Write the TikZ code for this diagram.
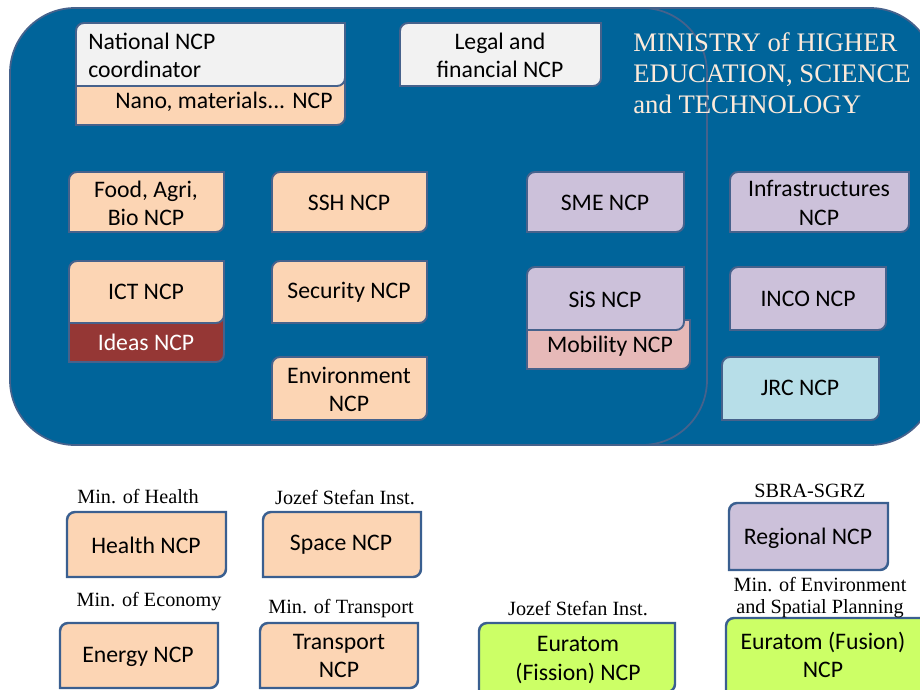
\documentclass[tikz,border=0pt]{standalone}
\usepackage{fontspec}
\setmainfont{Carlito}
\newfontfamily\timesfont{Liberation Serif}
\definecolor{minblue}{HTML}{00649A}
\definecolor{edgeblue}{HTML}{46628C}
\definecolor{darkedge}{HTML}{3A5F90}
\definecolor{peach}{HTML}{FCD5B4}
\definecolor{lilac}{HTML}{CCC1DA}
\definecolor{paper}{HTML}{F2F2F2}
\definecolor{wine}{HTML}{953735}
\definecolor{rose}{HTML}{E6B9B8}
\definecolor{iceblue}{HTML}{B7DEE8}
\definecolor{lime}{HTML}{CCFF66}
\definecolor{cream}{HTML}{FDEADA}

\newcommand{\diagbox}[5][]{%
	\draw[#1] (#2,#5) -- (#2,#3+8) arc[start angle=180, end angle=90, radius=0.16cm] -- (#4,#3) -- (#4,#5-8) arc[start angle=0, end angle=-90, radius=0.16cm] -- cycle;
}

\begin{document}
\begin{tikzpicture}[x=0.02cm, y=-0.02cm,
	inbox/.style={draw=edgeblue, line width=1.1pt},
	outbox/.style={draw=darkedge, line width=1.4pt},
	ncp/.style={font=\fontsize{13.5}{16}\selectfont, align=center, inner sep=0pt},
	org/.style={font=\timesfont\fontsize{11.5}{12.5}\selectfont, align=center, inner sep=0pt},
	title/.style={font=\timesfont\fontsize{15.2}{17.6}\selectfont, text=cream, align=left, inner sep=0pt}]
	\useasboundingbox (0,0) rectangle (920,690);
	\clip (0,0) rectangle (920,690);

	\draw[fill=minblue, draw=edgeblue, line width=1pt, rounded corners=1.3cm] (395,8) rectangle (935,445);
	\draw[fill=minblue, draw=edgeblue, line width=1pt, rounded corners=1.3cm] (10,8) rectangle (707,445);

	\diagbox[inbox, fill=peach]{76}{70}{345}{125}
	\diagbox[inbox, fill=paper]{76}{23}{345}{86}
	\diagbox[inbox, fill=paper]{400}{23}{601}{86}
	\diagbox[inbox, fill=peach]{69}{172}{224}{232}
	\diagbox[inbox, fill=peach]{272}{172}{427}{232}
	\diagbox[inbox, fill=lilac]{527}{172}{684}{232}
	\diagbox[inbox, fill=lilac]{730}{172}{909}{232}
	\diagbox[inbox, fill=wine]{69}{305}{224}{362}
	\diagbox[inbox, fill=peach]{69}{261}{224}{323}
	\diagbox[inbox, fill=peach]{272}{261}{427}{323}
	\diagbox[inbox, fill=rose]{527}{320}{690}{369}
	\diagbox[inbox, fill=lilac]{527}{267}{684}{330}
	\diagbox[inbox, fill=lilac]{730}{267}{886}{330}
	\diagbox[inbox, fill=peach]{272}{357}{427}{420}
	\diagbox[inbox, fill=iceblue]{722}{357}{879}{420}

	\node[ncp, anchor=west, align=left] (natcoord) at (88,55) {National NCP\\coordinator};
	\node[ncp] (nano) at (224,102) {Nano, materials... NCP};
	\node[ncp] (legal) at (500,55) {Legal and\\financial NCP};
	\node[title, anchor=north west] (ministry) at (633,32) {MINISTRY of HIGHER\\EDUCATION, SCIENCE\\and TECHNOLOGY};
	\node[ncp] (food) at (146,203) {Food, Agri,\\Bio NCP};
	\node[ncp] (ssh) at (349,203) {SSH NCP};
	\node[ncp] (sme) at (605,203) {SME NCP};
	\node[ncp] (infra) at (819,203) {Infrastructures\\NCP};
	\node[ncp] (ict) at (146,292) {ICT NCP};
	\node[ncp, text=white] (ideas) at (146,342) {Ideas NCP};
	\node[ncp] (security) at (349,292) {Security NCP};
	\node[ncp] (sis) at (605,299) {SiS NCP};
	\node[ncp] (mobility) at (610,346) {Mobility NCP};
	\node[ncp] (inco) at (808,299) {INCO NCP};
	\node[ncp] (environment) at (349,389) {Environment\\NCP};
	\node[ncp] (jrc) at (800,388) {JRC NCP};

	\diagbox[outbox, fill=peach]{67}{512}{226}{577}
	\diagbox[outbox, fill=peach]{263}{512}{421}{577}
	\diagbox[outbox, fill=peach]{60}{623}{218}{688}
	\diagbox[outbox, fill=peach]{260}{623}{418}{688}
	\diagbox[outbox, fill=lime]{479}{623}{675}{692}
	\diagbox[outbox, fill=lilac]{729}{503}{888}{570}
	\diagbox[outbox, fill=lime]{726}{618}{935}{700}

	\node[org] (minhealth) at (138,497) {Min. of Health};
	\node[org] (jsi) at (345,498) {Jozef Stefan Inst.};
	\node[org] (mineconomy) at (149,602) {Min. of Economy};
	\node[org] (mintransport) at (341,609) {Min. of Transport};
	\node[org] (jsifission) at (578,609) {Jozef Stefan Inst.};
	\node[org] (sbra) at (810,491) {SBRA-SGRZ};
	\node[org] (minenv) at (820,598) {Min. of Environment\\and Spatial Planning};

	\node[ncp] (health) at (146,545) {Health NCP};
	\node[ncp] (space) at (341,545) {Space NCP};
	\node[ncp] (energy) at (138,657) {Energy NCP};
	\node[ncp] (transport) at (339,656) {Transport\\NCP};
	\node[ncp] (fission) at (578,660) {Euratom\\(Fission) NCP};
	\node[ncp] (regional) at (808,538) {Regional NCP};
	\node[ncp] (fusion) at (823,655) {Euratom (Fusion)\\NCP};
\end{tikzpicture}
\end{document}
